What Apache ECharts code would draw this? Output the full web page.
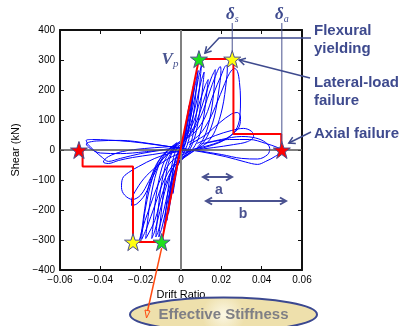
<!DOCTYPE html>
<html><head><meta charset="utf-8">
<script src="https://cdn.jsdelivr.net/npm/echarts@6/dist/echarts.min.js"></script>
<style>html,body{margin:0;padding:0;background:#fff;}#c{width:411px;height:326px;}</style>
</head><body><div id="c"></div>
<script>
// ---- tick labels ----
const xTicks = [-0.06, -0.04, -0.02, 0, 0.02, 0.04, 0.06];
const yTicks = [-400, -300, -200, -100, 0, 100, 200, 300, 400];

// ---- hysteresis cycles [drift ratio, shear kN] ----
const cycle1 = [[0,0],[0.001,35],[0.002,72],[0.003,110],[0.004,148],[0.0036,125],[0.0025,60],[0.001,10],[-0.001,-28],[-0.002,-66],[-0.003,-105],[-0.004,-145],[-0.0036,-120],[-0.0025,-55],[-0.001,-8],[0,0]];
const cycle2 = [[0,0],[0.002,62],[0.004,138],[0.0055,190],[0.0062,215],[0.0057,185],[0.0045,110],[0.003,45],[0.001,5],[-0.001,-25],[-0.003,-85],[-0.005,-160],[-0.0062,-212],[-0.0058,-180],[-0.0045,-100],[-0.003,-40],[-0.001,-5],[0,0]];
const cycle3 = [[0,0],[0.002,55],[0.004,125],[0.006,195],[0.0068,230],[0.0063,200],[0.005,120],[0.003,40],[0.001,0],[-0.0015,-35],[-0.0035,-100],[-0.0055,-175],[-0.007,-235],[-0.0066,-205],[-0.005,-110],[-0.003,-35],[-0.001,0],[0,5]];
const cycle4 = [[0.001,20],[0.003,75],[0.005,145],[0.007,215],[0.0085,265],[0.008,235],[0.0068,150],[0.005,70],[0.003,15],[0.0005,-20],[-0.0025,-65],[-0.005,-140],[-0.007,-210],[-0.0085,-265],[-0.008,-235],[-0.0065,-135],[-0.0045,-50],[-0.0025,0],[0,20]];
const cycle5 = [[0.0015,30],[0.004,85],[0.0065,165],[0.0085,235],[0.0102,285],[0.0097,250],[0.0085,165],[0.0065,70],[0.0045,15],[0.002,-15],[-0.002,-50],[-0.005,-120],[-0.0075,-200],[-0.0095,-260],[-0.011,-290],[-0.0105,-255],[-0.009,-160],[-0.0068,-60],[-0.0042,-5],[-0.001,25]];
const cycle6 = [[-0.001,25],[0.002,45],[0.005,90],[0.008,170],[0.010,230],[0.0115,260],[0.011,225],[0.0095,140],[0.0075,60],[0.005,10],[0.002,-20],[-0.002,-55],[-0.006,-130],[-0.009,-215],[-0.0115,-275],[-0.0125,-290],[-0.012,-250],[-0.0105,-150],[-0.008,-60],[-0.005,-10],[-0.002,20]];
const cycle7 = [[-0.002,15],[0.002,40],[0.006,90],[0.0095,165],[0.012,215],[0.0135,235],[0.013,205],[0.0115,120],[0.009,45],[0.006,5],[0.002,-22],[-0.003,-50],[-0.007,-115],[-0.0105,-205],[-0.013,-270],[-0.0145,-295],[-0.014,-260],[-0.0125,-160],[-0.0095,-60],[-0.006,-10],[-0.002,20]];
const cycle8 = [[0.000,25],[0.004,50],[0.008,100],[0.012,180],[0.015,240],[0.017,268],[0.0168,240],[0.0155,150],[0.013,70],[0.010,25],[0.006,-5],[0.001,-28],[-0.004,-60],[-0.009,-140],[-0.013,-235],[-0.017,-290],[-0.0175,-295],[-0.0168,-250],[-0.0145,-140],[-0.011,-50],[-0.007,-5],[-0.002,25]];
const cycle9 = [[0.001,30],[0.005,55],[0.010,115],[0.014,190],[0.017,245],[0.0195,278],[0.0198,265],[0.0188,200],[0.0165,110],[0.013,45],[0.009,10],[0.004,-12],[-0.002,-35],[-0.008,-95],[-0.013,-185],[-0.017,-260],[-0.0195,-298],[-0.0192,-275],[-0.0175,-190],[-0.014,-90],[-0.010,-25],[-0.005,8],[0.000,30]];
const cycle10 = [[0.002,35],[0.007,60],[0.012,110],[0.016,185],[0.020,250],[0.0225,282],[0.023,275],[0.0225,230],[0.0205,140],[0.017,65],[0.013,25],[0.008,5],[0.002,-12],[-0.005,-40],[-0.011,-110],[-0.016,-200],[-0.0195,-270],[-0.0205,-300],[-0.0198,-285],[-0.0185,-220],[-0.016,-120],[-0.012,-45],[-0.007,-5],[-0.001,25]];
const cycle11 = [[0.003,22],[0.009,50],[0.014,100],[0.018,160],[0.021,210],[0.024,255],[0.0265,272],[0.028,262],[0.029,225],[0.0295,170],[0.0292,110],[0.027,65],[0.022,35],[0.015,15],[0.007,0],[-0.002,-15],[-0.010,-45],[-0.017,-85],[-0.022,-130],[-0.0245,-170],[-0.0245,-185],[-0.022,-180],[-0.018,-150],[-0.014,-90],[-0.009,-30],[-0.003,5]];
const cycle12 = [[0.004,18],[0.012,50],[0.019,90],[0.025,120],[0.028,125],[0.0295,110],[0.029,80],[0.026,55],[0.020,30],[0.012,12],[0.004,0],[-0.005,-10],[-0.013,-28],[-0.021,-55],[-0.026,-75],[-0.029,-95],[-0.0295,-125],[-0.028,-150],[-0.024,-165],[-0.020,-150],[-0.016,-105],[-0.011,-45],[-0.005,-5],[0.001,12]];
const cycle13 = [[0.008,22],[0.017,48],[0.025,65],[0.031,72],[0.035,62],[0.036,45],[0.033,28],[0.026,18],[0.016,8],[0.006,0],[-0.004,-5],[-0.014,-15],[-0.024,-25],[-0.031,-35],[-0.036,-45],[-0.0385,-40],[-0.036,-22],[-0.029,-5],[-0.018,5],[-0.008,10],[0.002,15]];
const cycle14 = [[0.01,20],[0.02,35],[0.03,45],[0.037,40],[0.042,25],[0.044,5],[0.043,-15],[0.038,-30],[0.030,-28],[0.020,-15],[0.009,-3],[-0.002,8],[-0.013,18],[-0.025,28],[-0.036,33],[-0.044,35],[-0.047,32],[-0.046,18],[-0.043,-2],[-0.039,-25],[-0.036,-38],[-0.030,-28],[-0.020,-12],[-0.009,0],[0.001,10]];
const cycle15 = [[0.012,22],[0.024,35],[0.034,35],[0.042,22],[0.048,8],[0.050,0],[0.047,-20],[0.042,-38],[0.038,-48],[0.032,-40],[0.022,-22],[0.010,-6],[-0.003,8],[-0.016,22],[-0.030,32],[-0.042,30],[-0.047,20],[-0.045,5],[-0.040,-10],[-0.030,-12],[-0.018,-6],[-0.006,4]];
const cycles = [cycle1,cycle2,cycle3,cycle4,cycle5,cycle6,cycle7,cycle8,cycle9,cycle10,cycle11,cycle12,cycle13,cycle14,cycle15];

// ---- backbone model (red) ----
const backbone = [[-0.0488,0],[-0.0488,-55],[-0.0238,-55],[-0.0238,-307],[-0.0096,-307],[0.0089,303],[0.0260,303],[0.0260,53],[0.0497,53],[0.0497,0]];

// ---- key points (stars) ----
const redStars = [[-0.0506,0],[0.0500,0]];
const greenStars = [[0.0089,303],[-0.0096,-307]];
const yellowStars = [[0.0254,303],[-0.0238,-307]];

const NAVY = '#3e4a8e';
const STAR = 'path://M50,0 L61.8,35.1 L98.1,35.1 L68.8,56.7 L79.4,91.3 L50,70 L20.6,91.3 L31.2,56.7 L1.9,35.1 L38.2,35.1 Z';

function fmtX(v){ if (Math.abs(v) < 1e-9) return '0'; return (v < 0 ? '\u2212' : '') + Math.abs(v).toFixed(2); }
function fmtY(v){ if (Math.abs(v) < 1e-9) return '0'; return (v < 0 ? '\u2212' : '') + Math.abs(Math.round(v)); }

const chart = echarts.init(document.getElementById('c'), null, {renderer: 'canvas'});
const axisFont = {fontFamily: '"Liberation Sans", Arial, sans-serif', fontSize: 10, color: '#000'};
const frameLine = {show: true, onZero: false, lineStyle: {color: '#111', width: 2}};
const xMin = xTicks[0], xMax = xTicks[xTicks.length - 1], xInt = xTicks[1] - xTicks[0];
const yMin = yTicks[0], yMax = yTicks[yTicks.length - 1], yInt = yTicks[1] - yTicks[0];

const series = [];
series.push({
  type: 'line', data: [], silent: true, z: 1,
  markLine: {silent: true, symbol: 'none', label: {show: false}, animation: false,
    data: [
      {xAxis: 0, lineStyle: {color: '#808080', width: 2, type: 'solid'}},
      {yAxis: 0, lineStyle: {color: '#555', width: 1.5, type: 'solid'}}
    ]}
});
cycles.forEach(c => series.push({
  type: 'line', data: c, smooth: 0.35, showSymbol: false, symbol: 'none', z: 3,
  lineStyle: {color: '#0000ff', width: 1}, silent: true, animation: false
}));
series.push({type: 'line', data: backbone, showSymbol: false, symbol: 'none', z: 5, lineStyle: {color: '#ff0000', width: 2}, animation: false});
function starSeries(d, col){
  return {type: 'scatter', data: d, symbol: STAR, symbolSize: 17, z: 8, animation: false,
    itemStyle: {color: col, borderColor: '#4a4e8c', borderWidth: 1, opacity: 1}};
}
series.push(starSeries(redStars, '#ff0000'));
series.push(starSeries(greenStars, '#1ee01e'));
series.push(starSeries(yellowStars, '#ffff10'));

chart.setOption({
  animation: false,
  backgroundColor: '#fff',
  grid: {left: 60, right: 109, top: 30, bottom: 56, containLabel: false},
  xAxis: [
    {type: 'value', min: xMin, max: xMax, interval: xInt, position: 'bottom',
     axisLine: frameLine, axisTick: {show: true, inside: true, length: 4, lineStyle: {color: '#111'}},
     axisLabel: Object.assign({formatter: fmtX, margin: 5}, axisFont), splitLine: {show: false},
     name: 'Drift Ratio', nameLocation: 'middle', nameGap: 15,
     nameTextStyle: {fontFamily: '"Liberation Sans", Arial, sans-serif', fontSize: 11, color: '#000'}},
    {type: 'value', min: xMin, max: xMax, interval: xInt, position: 'top',
     axisLine: frameLine, axisTick: {show: true, inside: true, length: 4, lineStyle: {color: '#111'}},
     axisLabel: {show: false}, splitLine: {show: false}}
  ],
  yAxis: [
    {type: 'value', min: yMin, max: yMax, interval: yInt, position: 'left',
     axisLine: frameLine, axisTick: {show: true, inside: true, length: 4, lineStyle: {color: '#111'}},
     axisLabel: Object.assign({formatter: fmtY, margin: 5}, axisFont), splitLine: {show: false},
     name: 'Shear (kN)', nameLocation: 'middle', nameGap: 34,
     nameTextStyle: {fontFamily: '"Liberation Sans", Arial, sans-serif', fontSize: 11, color: '#000'}},
    {type: 'value', min: yMin, max: yMax, interval: yInt, position: 'right',
     axisLine: frameLine, axisTick: {show: true, inside: true, length: 4, lineStyle: {color: '#111'}},
     axisLabel: {show: false}, splitLine: {show: false}}
  ],
  series: series
});

// ---- annotations ----
function px(p){ return chart.convertToPixel({gridIndex: 0}, p); }
function chevron(x1, y1, x2, y2, len, col, w){
  const a = Math.atan2(y2 - y1, x2 - x1), s = Math.PI / 6;
  return {type: 'polyline', z: 20, shape: {points: [
    [x2 - len * Math.cos(a - s), y2 - len * Math.sin(a - s)], [x2, y2],
    [x2 - len * Math.cos(a + s), y2 - len * Math.sin(a + s)]]},
    style: {stroke: col, lineWidth: w, fill: null}};
}
function seg(pts, col, w){ return {type: 'polyline', z: 20, shape: {points: pts}, style: {stroke: col, lineWidth: w, fill: null}}; }
function txt(x, y, t, font, col, align){
  return {type: 'text', x: x, y: y, z: 30, style: {text: t, font: font, fill: col, textAlign: align || 'left', textVerticalAlign: 'middle', verticalAlign: 'middle'}};
}

const g = [];
const ys = px(yellowStars[0]), ra = px(redStars[1]), gsTop = px(greenStars[0]), gsBot = px(greenStars[1]);
// delta lines
g.push(seg([[ys[0], 23], [ys[0], ys[1] - 8]], '#4a5290', 1));
g.push(seg([[ra[0], 23], [ra[0], ra[1] - 8]], '#4a5290', 1));
g.push({type: 'text', x: ys[0], y: 15, z: 30, style: {text: '{d|δ}{s|s}', textAlign: 'center', textVerticalAlign: 'middle', verticalAlign: 'middle',
  rich: {d: {font: 'italic bold 17px "Liberation Serif", serif', fill: NAVY, color: NAVY}, s: {font: 'italic 10px "Liberation Serif", serif', fill: NAVY, color: NAVY, padding: [8, 0, 0, 0]}}}});
g.push({type: 'text', x: ra[0], y: 15, z: 30, style: {text: '{d|δ}{s|a}', textAlign: 'center', textVerticalAlign: 'middle', verticalAlign: 'middle',
  rich: {d: {font: 'italic bold 17px "Liberation Serif", serif', fill: NAVY, color: NAVY}, s: {font: 'italic 10px "Liberation Serif", serif', fill: NAVY, color: NAVY, padding: [8, 0, 0, 0]}}}});
// V_p
g.push({type: 'text', x: 170, y: 60, z: 30, style: {text: '{v|V}{p|p}', textAlign: 'center', textVerticalAlign: 'middle', verticalAlign: 'middle',
  rich: {v: {font: 'italic bold 17px "Liberation Serif", serif', fill: '#4a5590', color: '#4a5590'}, p: {font: 'italic 11px "Liberation Serif", serif', fill: '#4a5590', color: '#4a5590', padding: [9, 0, 0, 0]}}}});
// right-hand labels
const LF = 'bold 15px "Liberation Sans", Arial, sans-serif';
g.push(txt(314, 31, 'Flexural', LF, NAVY));
g.push(txt(314, 49, 'yielding', LF, NAVY));
g.push(txt(314, 83, 'Lateral-load', LF, NAVY));
g.push(txt(314, 101, 'failure', LF, NAVY));
g.push(txt(314, 134, 'Axial failure', LF, NAVY));
// pointer arrows
g.push(seg([[311, 38], [219, 38], [gsTop[0] + 6, gsTop[1] - 6]], NAVY, 1.5));
g.push(chevron(219, 38, gsTop[0] + 6, gsTop[1] - 6, 7, NAVY, 1.5));
g.push(seg([[310, 78], [ys[0] + 7, ys[1] + 1]], NAVY, 1.5));
g.push(chevron(310, 78, ys[0] + 7, ys[1] + 1, 7, NAVY, 1.5));
g.push(seg([[311, 132], [ra[0] + 7, ra[1] - 7]], NAVY, 1.5));
g.push(chevron(311, 132, ra[0] + 7, ra[1] - 7, 7, NAVY, 1.5));
// a / b arrows
const AB = '#4a5290';
g.push(seg([[203, 177], [232, 177]], AB, 2));
g.push(chevron(232, 177, 203, 177, 7, AB, 2));
g.push(chevron(203, 177, 232, 177, 7, AB, 2));
g.push(txt(219, 190, 'a', 'bold 14px "Liberation Sans", Arial, sans-serif', AB, 'center'));
g.push(seg([[206, 201], [286, 201]], AB, 2));
g.push(chevron(286, 201, 206, 201, 7, AB, 2));
g.push(chevron(206, 201, 286, 201, 7, AB, 2));
g.push(txt(243, 214, 'b', 'bold 14px "Liberation Sans", Arial, sans-serif', AB, 'center'));
// Effective stiffness callout
g.push({type: 'ellipse', z: 25, shape: {cx: 223.5, cy: 314.5, rx: 93.5, ry: 17},
  style: {fill: new echarts.graphic.RadialGradient(0.5, 0.5, 0.6, [{offset: 0, color: '#fbf7e4'}, {offset: 1, color: '#eee0ac'}]), stroke: '#3b4890', lineWidth: 2}});
g.push(txt(223.5, 315, 'Effective Stiffness', 'bold 15px "Liberation Sans", Arial, sans-serif', '#7f7f85', 'center'));
const ex = 147.5, ey = 317;
g.push({type: 'line', z: 28, shape: {x1: gsBot[0], y1: gsBot[1] + 6, x2: ex, y2: ey - 6}, style: {stroke: '#ff4a10', lineWidth: 1.5}});
g.push({type: 'polygon', z: 28, shape: {points: [[ex - 2.5, ey - 7], [ex + 2.5, ey - 6], [ex - 1, ey + 1]]}, style: {stroke: '#ff4a10', lineWidth: 1, fill: null}});

chart.setOption({graphic: {elements: g}});
</script>
</body></html>
